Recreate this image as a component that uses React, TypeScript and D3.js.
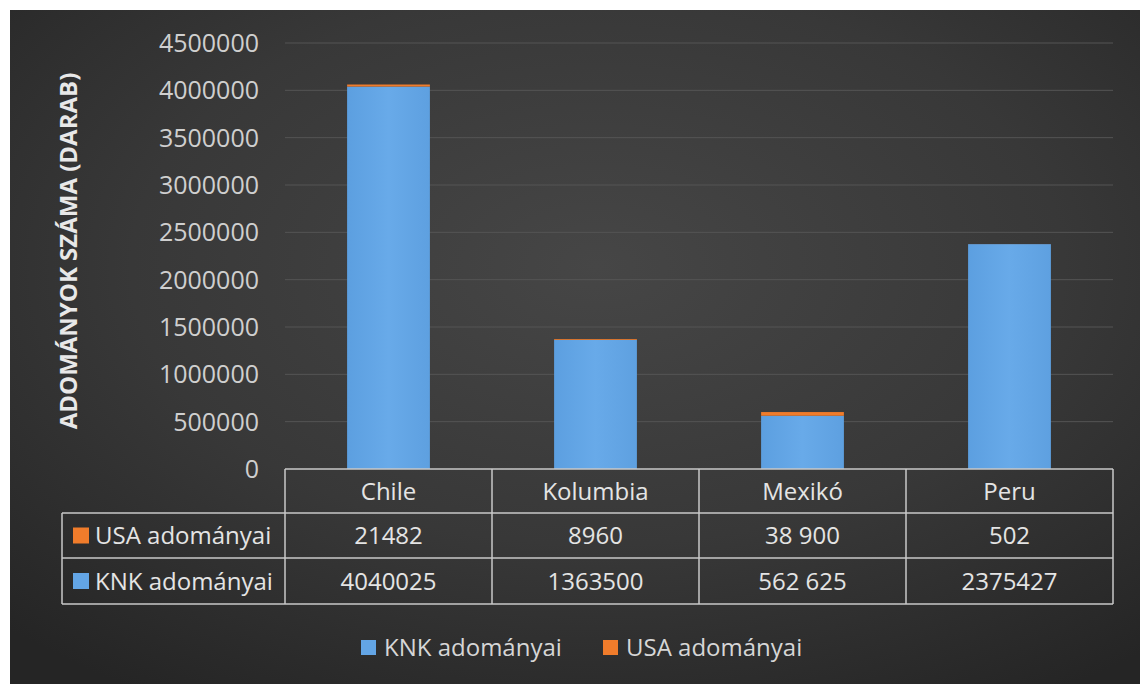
import React from "react";
import * as d3 from "d3";

// Donation counts per country, split by donor
const categories = ["Chile", "Kolumbia", "Mexikó", "Peru"];
const knkValues = [4040025, 1363500, 562625, 2375427];
const usaValues = [21482, 8960, 38900, 502];
// Table labels as printed in the data table
const knkLabels = ["4040025", "1363500", "562 625", "2375427"];
const usaLabels = ["21482", "8960", "38 900", "502"];
const yTicks = [0, 500000, 1000000, 1500000, 2000000, 2500000, 3000000, 3500000, 4000000, 4500000];

const seriesKeys = ["knk", "usa"];
const seriesNames: Record<string, string> = { knk: "KNK adományai", usa: "USA adományai" };
const seriesColors: Record<string, string> = { knk: "#63a5e5", usa: "#f07c2b" };

const W = 1143;
const H = 684;
const FONT = "'Open Sans', 'Noto Sans', sans-serif";

export default function App() {
  const plotLeft = 285;
  const plotRight = 1113;
  const plotTop = 43;
  const plotBottom = 469;

  const x = d3.scaleBand<string>().domain(categories).range([plotLeft, plotRight]).padding(0);
  const y = d3.scaleLinear().domain([0, 4500000]).range([plotBottom, plotTop]);
  const barW = x.bandwidth() * 0.4;

  const rows = categories.map((c, i) => ({ cat: c, knk: knkValues[i], usa: usaValues[i] }));
  const stacked = d3.stack<any>().keys(seriesKeys)(rows);

  const rowTops = [469, 513, 558, 604];
  const tableLeft = 62;
  const lineColor = "#c8c8c8";
  const textColor = "#e4e4e4";

  const tableRows = [
    { key: "usa", labels: usaLabels },
    { key: "knk", labels: knkLabels },
  ];

  return (
    <svg
      width={W}
      height={H}
      style={{ position: "absolute", left: 0, top: 0, display: "block" }}
      fontFamily={FONT}
    >
      <defs>
        <radialGradient id="bg" cx="52%" cy="38%" r="75%">
          <stop offset="0%" stopColor="#464646" />
          <stop offset="55%" stopColor="#383838" />
          <stop offset="100%" stopColor="#252525" />
        </radialGradient>
        <linearGradient id="barShade" x1="0" x2="1" y1="0" y2="0">
          <stop offset="0%" stopColor="#5c9fe0" />
          <stop offset="50%" stopColor="#68aae9" />
          <stop offset="100%" stopColor="#5ea0e0" />
        </linearGradient>
      </defs>
      <rect x={0} y={0} width={W} height={H} fill="#ffffff" />
      <rect x={10} y={10} width={1130} height={674} fill="url(#bg)" />

      {/* horizontal gridlines */}
      {yTicks.slice(1).map((t) => (
        <line
          key={"g" + t}
          x1={plotLeft}
          x2={plotRight}
          y1={y(t)}
          y2={y(t)}
          stroke="#555555"
          strokeWidth={1}
        />
      ))}

      {/* y tick labels */}
      {yTicks.map((t) => (
        <text
          key={"t" + t}
          x={259}
          y={y(t)}
          dy="0.36em"
          textAnchor="end"
          fontSize={25}
          fill="#cfcfcf"
        >
          {t}
        </text>
      ))}

      {/* y axis title */}
      <text
        transform={`translate(77, 251) rotate(-90)`}
        textAnchor="middle"
        fontSize={24}
        fontWeight="bold"
        fill="#e8e8e8"
      >
        ADOMÁNYOK SZÁMA (DARAB)
      </text>

      {/* stacked bars */}
      {stacked.map((layer) => (
        <g key={layer.key}>
          {layer.map((d: any, i: number) => {
            const cx = (x(categories[i]) as number) + x.bandwidth() / 2;
            const y0 = y(d[0]);
            const y1 = y(d[1]);
            return (
              <rect
                key={i}
                x={cx - barW / 2}
                y={y1}
                width={barW}
                height={Math.max(0, y0 - y1)}
                fill={layer.key === "knk" ? "url(#barShade)" : seriesColors.usa}
              />
            );
          })}
        </g>
      ))}

      {/* data table */}
      <g stroke={lineColor} strokeWidth={1.5} fill="none">
        <line x1={plotLeft} x2={plotRight} y1={rowTops[0]} y2={rowTops[0]} />
        <line x1={tableLeft} x2={plotRight} y1={rowTops[1]} y2={rowTops[1]} />
        <line x1={tableLeft} x2={plotRight} y1={rowTops[2]} y2={rowTops[2]} />
        <line x1={tableLeft} x2={plotRight} y1={rowTops[3]} y2={rowTops[3]} />
        <line x1={tableLeft} x2={tableLeft} y1={rowTops[1]} y2={rowTops[3]} />
        {categories.map((c) => (
          <line key={"v" + c} x1={x(c)} x2={x(c)} y1={rowTops[0]} y2={rowTops[3]} />
        ))}
        <line x1={plotRight} x2={plotRight} y1={rowTops[0]} y2={rowTops[3]} />
      </g>

      {categories.map((c) => (
        <text
          key={"h" + c}
          x={(x(c) as number) + x.bandwidth() / 2}
          y={(rowTops[0] + rowTops[1]) / 2}
          dy="0.36em"
          textAnchor="middle"
          fontSize={24}
          fill={textColor}
        >
          {c}
        </text>
      ))}

      {tableRows.map((r, ri) => {
        const cy = (rowTops[ri + 1] + rowTops[ri + 2]) / 2;
        return (
          <g key={r.key}>
            <rect x={73} y={cy - 8} width={16} height={16} fill={seriesColors[r.key]} />
            <text x={95} y={cy} dy="0.36em" fontSize={24} fill={textColor}>
              {seriesNames[r.key]}
            </text>
            {r.labels.map((lab, i) => (
              <text
                key={i}
                x={(x(categories[i]) as number) + x.bandwidth() / 2}
                y={cy}
                dy="0.36em"
                textAnchor="middle"
                fontSize={24}
                fill={textColor}
              >
                {lab}
              </text>
            ))}
          </g>
        );
      })}

      {/* legend */}
      {[
        { key: "knk", sx: 361, tx: 384 },
        { key: "usa", sx: 603, tx: 626 },
      ].map((l) => (
        <g key={"l" + l.key}>
          <rect x={l.sx} y={640} width={15} height={15} fill={seriesColors[l.key]} />
          <text x={l.tx} y={647} dy="0.36em" fontSize={24} fill="#d6d6d6">
            {seriesNames[l.key]}
          </text>
        </g>
      ))}
    </svg>
  );
}
